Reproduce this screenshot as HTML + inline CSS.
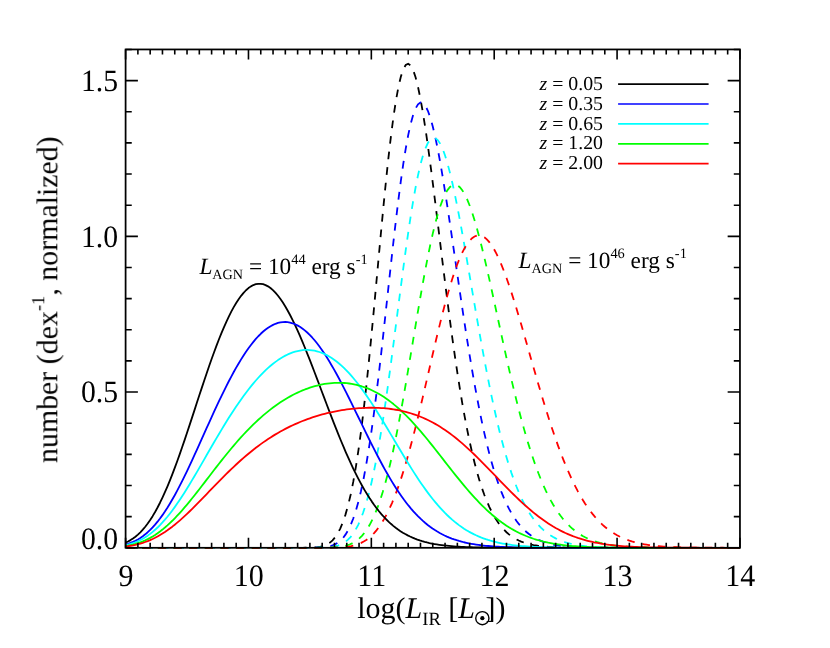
<!DOCTYPE html>
<html><head><meta charset="utf-8"><title>plot</title>
<style>
html,body{margin:0;padding:0;background:#fff;}
svg{display:block;}
text{font-family:"Liberation Serif",serif;fill:#000;text-rendering:geometricPrecision;}
</style></head>
<body>
<svg width="830" height="648" viewBox="0 0 830 648">
<rect width="830" height="648" fill="#fff"/>
<g id="curves">
<path d="M125.60,547.80 L128.01,547.80 L130.43,547.80 L132.84,547.80 L135.25,547.80 L137.67,547.80 L140.08,547.80 L142.49,547.80 L144.91,547.80 L147.32,547.80 L149.73,547.80 L152.15,547.80 L154.56,547.80 L156.97,547.80 L159.39,547.80 L161.80,547.80 L164.21,547.80 L166.63,547.80 L169.04,547.80 L171.45,547.80 L173.87,547.80 L176.28,547.80 L178.69,547.80 L181.11,547.80 L183.52,547.80 L185.94,547.80 L188.35,547.80 L190.76,547.80 L193.18,547.80 L195.59,547.80 L198.00,547.80 L200.42,547.80 L202.83,547.80 L205.24,547.80 L207.66,547.80 L210.07,547.80 L212.48,547.80 L214.90,547.80 L217.31,547.80 L219.72,547.80 L222.14,547.80 L224.55,547.80 L226.96,547.80 L229.38,547.80 L231.79,547.80 L234.20,547.80 L236.62,547.80 L239.03,547.80 L241.44,547.80 L243.86,547.80 L246.27,547.80 L248.73,547.80 L251.18,547.80 L253.64,547.80 L256.10,547.80 L258.56,547.80 L261.01,547.80 L263.47,547.80 L265.93,547.80 L268.39,547.80 L270.84,547.80 L273.30,547.80 L275.76,547.80 L278.22,547.80 L280.67,547.80 L283.13,547.80 L285.59,547.80 L288.05,547.80 L290.50,547.80 L292.96,547.80 L295.42,547.80 L297.88,547.79 L300.33,547.79 L302.79,547.78 L305.25,547.76 L307.71,547.73 L310.17,547.67 L312.63,547.57 L315.09,547.41 L317.56,547.17 L320.03,546.79 L322.50,546.22 L324.99,545.40 L327.49,544.22 L330.00,542.59 L332.53,540.36 L335.07,537.39 L337.64,533.52 L340.24,528.55 L342.85,522.32 L345.47,514.62 L348.11,505.30 L350.75,494.19 L353.38,481.18 L356.00,466.19 L358.60,449.18 L361.18,430.19 L363.73,409.31 L366.26,386.69 L368.77,362.55 L371.27,337.18 L373.75,310.90 L376.22,284.09 L378.69,257.16 L381.16,230.54 L383.62,204.68 L386.08,179.99 L388.54,156.89 L391.00,135.76 L393.45,116.92 L395.91,100.66 L398.37,87.20 L400.83,76.70 L403.29,69.27 L405.74,64.94 L408.20,63.68 L410.66,65.40 L413.12,69.99 L415.57,77.26 L418.03,87.00 L420.49,98.97 L422.95,112.91 L425.40,128.55 L427.86,145.59 L430.32,163.78 L432.77,182.83 L435.23,202.48 L437.69,222.48 L440.15,242.61 L442.60,262.67 L445.06,282.46 L447.52,301.83 L449.98,320.64 L452.43,338.77 L454.89,356.14 L457.35,372.68 L459.81,388.32 L462.26,403.05 L464.72,416.84 L467.18,429.68 L469.64,441.59 L472.09,452.59 L474.55,462.69 L477.01,471.94 L479.47,480.38 L481.92,488.04 L484.38,494.97 L486.84,501.22 L489.30,506.84 L491.75,511.87 L494.21,516.36 L496.67,520.35 L499.12,523.90 L501.58,527.04 L504.04,529.80 L506.50,532.24 L508.95,534.37 L511.41,536.24 L513.87,537.87 L516.33,539.29 L518.78,540.52 L521.24,541.58 L523.70,542.50 L526.16,543.30 L528.61,543.98 L531.07,544.57 L533.53,545.07 L535.99,545.49 L538.44,545.86 L540.90,546.17 L543.36,546.43 L545.82,546.66 L548.27,546.84 L550.73,547.00 L553.19,547.14 L555.64,547.25 L558.10,547.34 L560.56,547.42 L563.02,547.49 L565.47,547.54 L567.93,547.59 L570.39,547.62 L572.85,547.66 L575.30,547.68 L577.76,547.70 L580.22,547.72 L582.68,547.74 L585.13,547.75 L587.59,547.76 L590.05,547.77 L592.51,547.77 L594.96,547.78 L597.42,547.78 L599.88,547.79 L602.34,547.79 L604.79,547.79 L607.25,547.79 L609.71,547.79 L612.17,547.80 L614.62,547.80 L617.08,547.80 L619.54,547.80 L621.99,547.80 L624.45,547.80 L626.91,547.80 L629.37,547.80 L631.82,547.80 L634.28,547.80 L636.74,547.80 L639.20,547.80 L641.65,547.80 L644.11,547.80 L646.57,547.80 L649.03,547.80 L651.48,547.80 L653.94,547.80 L656.40,547.80 L658.86,547.80 L661.31,547.80 L663.77,547.80 L666.23,547.80 L668.69,547.80 L671.14,547.80 L673.60,547.80 L676.06,547.80 L678.52,547.80 L680.97,547.80 L683.43,547.80 L685.89,547.80 L688.34,547.80 L690.80,547.80 L693.26,547.80 L695.72,547.80 L698.17,547.80 L700.63,547.80 L703.09,547.80 L705.55,547.80 L708.00,547.80 L710.46,547.80 L712.92,547.80 L715.38,547.80 L717.83,547.80 L720.29,547.80 L722.75,547.80 L725.21,547.80 L727.66,547.80 L730.12,547.80 L732.58,547.80 L735.04,547.80 L737.49,547.80 L739.95,547.80" stroke="#000000" stroke-width="1.8" fill="none" stroke-dasharray="7.73 7.93" stroke-dashoffset="-1.0" stroke-linejoin="miter"/>
<path d="M125.60,547.80 L128.03,547.80 L130.46,547.80 L132.89,547.80 L135.32,547.80 L137.75,547.80 L140.18,547.80 L142.61,547.80 L145.04,547.80 L147.46,547.80 L149.89,547.80 L152.32,547.80 L154.75,547.80 L157.18,547.80 L159.61,547.80 L162.04,547.80 L164.47,547.80 L166.90,547.80 L169.33,547.80 L171.76,547.80 L174.19,547.80 L176.62,547.80 L179.05,547.80 L181.48,547.80 L183.91,547.80 L186.34,547.80 L188.76,547.80 L191.19,547.80 L193.62,547.80 L196.05,547.80 L198.48,547.80 L200.91,547.80 L203.34,547.80 L205.77,547.80 L208.20,547.80 L210.63,547.80 L213.06,547.80 L215.49,547.80 L217.92,547.80 L220.35,547.80 L222.78,547.80 L225.21,547.80 L227.63,547.80 L230.06,547.80 L232.49,547.80 L234.92,547.80 L237.35,547.80 L239.78,547.80 L242.21,547.80 L244.64,547.80 L247.07,547.80 L249.53,547.80 L251.98,547.80 L254.44,547.80 L256.90,547.80 L259.36,547.80 L261.81,547.80 L264.27,547.80 L266.73,547.80 L269.19,547.80 L271.64,547.80 L274.10,547.80 L276.56,547.80 L279.02,547.80 L281.47,547.80 L283.93,547.80 L286.39,547.80 L288.85,547.80 L291.30,547.80 L293.76,547.80 L296.22,547.80 L298.68,547.80 L301.13,547.80 L303.59,547.79 L306.05,547.79 L308.51,547.78 L310.96,547.76 L313.42,547.74 L315.88,547.69 L318.34,547.61 L320.80,547.49 L323.26,547.31 L325.72,547.03 L328.19,546.61 L330.66,546.02 L333.14,545.19 L335.62,544.05 L338.11,542.51 L340.61,540.46 L343.12,537.81 L345.64,534.41 L348.17,530.14 L350.71,524.87 L353.26,518.47 L355.82,510.80 L358.38,501.75 L360.95,491.24 L363.50,479.20 L366.05,465.59 L368.59,450.42 L371.12,433.72 L373.63,415.59 L376.13,396.14 L378.62,375.56 L381.11,354.04 L383.58,331.82 L386.05,309.18 L388.52,286.41 L390.98,263.81 L393.45,241.69 L395.91,220.35 L398.37,200.11 L400.82,181.22 L403.28,163.96 L405.74,148.54 L408.20,135.15 L410.66,123.93 L413.11,115.02 L415.57,108.46 L418.03,104.29 L420.49,102.50 L422.95,103.04 L425.40,105.83 L427.86,110.75 L430.32,117.68 L432.77,126.45 L435.23,136.89 L437.69,148.82 L440.15,162.03 L442.60,176.34 L445.06,191.54 L447.52,207.45 L449.98,223.87 L452.43,240.63 L454.89,257.57 L457.35,274.52 L459.81,291.37 L462.26,307.97 L464.72,324.22 L467.18,340.03 L469.64,355.31 L472.09,370.01 L474.55,384.07 L477.01,397.46 L479.47,410.13 L481.92,422.09 L484.38,433.32 L486.84,443.83 L489.30,453.61 L491.75,462.69 L494.21,471.09 L496.67,478.83 L499.12,485.94 L501.58,492.45 L504.04,498.39 L506.50,503.79 L508.95,508.69 L511.41,513.13 L513.87,517.12 L516.33,520.72 L518.78,523.95 L521.24,526.83 L523.70,529.41 L526.16,531.70 L528.61,533.73 L531.07,535.53 L533.53,537.13 L535.99,538.53 L538.44,539.77 L540.90,540.85 L543.36,541.80 L545.82,542.63 L548.27,543.35 L550.73,543.98 L553.19,544.53 L555.64,545.00 L558.10,545.41 L560.56,545.76 L563.02,546.06 L565.47,546.33 L567.93,546.55 L570.39,546.74 L572.85,546.91 L575.30,547.05 L577.76,547.16 L580.22,547.27 L582.68,547.35 L585.13,547.42 L587.59,547.49 L590.05,547.54 L592.51,547.58 L594.96,547.62 L597.42,547.65 L599.88,547.67 L602.34,547.70 L604.79,547.71 L607.25,547.73 L609.71,547.74 L612.17,547.75 L614.62,547.76 L617.08,547.77 L619.54,547.77 L621.99,547.78 L624.45,547.78 L626.91,547.79 L629.37,547.79 L631.82,547.79 L634.28,547.79 L636.74,547.79 L639.20,547.79 L641.65,547.80 L644.11,547.80 L646.57,547.80 L649.03,547.80 L651.48,547.80 L653.94,547.80 L656.40,547.80 L658.86,547.80 L661.31,547.80 L663.77,547.80 L666.23,547.80 L668.69,547.80 L671.14,547.80 L673.60,547.80 L676.06,547.80 L678.52,547.80 L680.97,547.80 L683.43,547.80 L685.89,547.80 L688.34,547.80 L690.80,547.80 L693.26,547.80 L695.72,547.80 L698.17,547.80 L700.63,547.80 L703.09,547.80 L705.55,547.80 L708.00,547.80 L710.46,547.80 L712.92,547.80 L715.38,547.80 L717.83,547.80 L720.29,547.80 L722.75,547.80 L725.21,547.80 L727.66,547.80 L730.12,547.80 L732.58,547.80 L735.04,547.80 L737.49,547.80 L739.95,547.80" stroke="#0000ff" stroke-width="1.8" fill="none" stroke-dasharray="7.72 7.925" stroke-dashoffset="-1.5" stroke-linejoin="miter"/>
<path d="M125.60,547.80 L128.03,547.80 L130.46,547.80 L132.89,547.80 L135.32,547.80 L137.75,547.80 L140.18,547.80 L142.61,547.80 L145.04,547.80 L147.46,547.80 L149.89,547.80 L152.32,547.80 L154.75,547.80 L157.18,547.80 L159.61,547.80 L162.04,547.80 L164.47,547.80 L166.90,547.80 L169.33,547.80 L171.76,547.80 L174.19,547.80 L176.62,547.80 L179.05,547.80 L181.48,547.80 L183.91,547.80 L186.34,547.80 L188.76,547.80 L191.19,547.80 L193.62,547.80 L196.05,547.80 L198.48,547.80 L200.91,547.80 L203.34,547.80 L205.77,547.80 L208.20,547.80 L210.63,547.80 L213.06,547.80 L215.49,547.80 L217.92,547.80 L220.35,547.80 L222.78,547.80 L225.21,547.80 L227.63,547.80 L230.06,547.80 L232.49,547.80 L234.92,547.80 L237.35,547.80 L239.78,547.80 L242.21,547.80 L244.64,547.80 L247.07,547.80 L249.53,547.80 L251.98,547.80 L254.44,547.80 L256.90,547.80 L259.36,547.80 L261.81,547.80 L264.27,547.80 L266.73,547.80 L269.19,547.80 L271.64,547.80 L274.10,547.80 L276.56,547.80 L279.02,547.80 L281.47,547.80 L283.93,547.80 L286.39,547.80 L288.85,547.80 L291.30,547.80 L293.76,547.80 L296.22,547.80 L298.68,547.80 L301.13,547.80 L303.59,547.80 L306.05,547.80 L308.51,547.79 L310.96,547.79 L313.42,547.78 L315.88,547.76 L318.34,547.73 L320.79,547.68 L323.25,547.61 L325.71,547.49 L328.17,547.32 L330.64,547.07 L333.10,546.72 L335.57,546.22 L338.04,545.53 L340.52,544.60 L343.00,543.37 L345.50,541.76 L347.99,539.69 L350.50,537.08 L353.02,533.84 L355.55,529.86 L358.08,525.05 L360.62,519.31 L363.17,512.56 L365.72,504.73 L368.28,495.74 L370.82,485.55 L373.37,474.14 L375.90,461.51 L378.43,447.68 L380.95,432.71 L383.46,416.69 L385.95,399.72 L388.44,381.94 L390.93,363.50 L393.40,344.59 L395.87,325.40 L398.34,306.14 L400.81,287.03 L403.27,268.30 L405.73,250.15 L408.19,232.80 L410.65,216.45 L413.11,201.29 L415.57,187.49 L418.03,175.18 L420.49,164.50 L422.94,155.54 L425.40,148.37 L427.86,143.03 L430.32,139.54 L432.77,137.90 L435.23,138.07 L437.69,140.00 L440.15,143.61 L442.60,148.82 L445.06,155.51 L447.52,163.58 L449.98,172.88 L452.43,183.30 L454.89,194.69 L457.35,206.91 L459.81,219.81 L462.26,233.28 L464.72,247.16 L467.18,261.33 L469.64,275.68 L472.09,290.08 L474.55,304.45 L477.01,318.67 L479.47,332.67 L481.92,346.38 L484.38,359.73 L486.84,372.65 L489.30,385.12 L491.75,397.08 L494.21,408.52 L496.67,419.41 L499.12,429.73 L501.58,439.49 L504.04,448.67 L506.50,457.28 L508.95,465.33 L511.41,472.84 L513.87,479.81 L516.33,486.27 L518.78,492.24 L521.24,497.73 L523.70,502.78 L526.16,507.40 L528.61,511.62 L531.07,515.46 L533.53,518.96 L535.99,522.12 L538.44,524.99 L540.90,527.57 L543.36,529.90 L545.82,531.99 L548.27,533.86 L550.73,535.53 L553.19,537.02 L555.64,538.35 L558.10,539.53 L560.56,540.57 L563.02,541.50 L565.47,542.31 L567.93,543.03 L570.39,543.66 L572.85,544.22 L575.30,544.70 L577.76,545.13 L580.22,545.50 L582.68,545.82 L585.13,546.10 L587.59,546.34 L590.05,546.55 L592.51,546.73 L594.96,546.89 L597.42,547.03 L599.88,547.14 L602.34,547.24 L604.79,547.33 L607.25,547.40 L609.71,547.46 L612.17,547.52 L614.62,547.56 L617.08,547.60 L619.54,547.63 L621.99,547.66 L624.45,547.68 L626.91,547.70 L629.37,547.72 L631.82,547.73 L634.28,547.74 L636.74,547.75 L639.20,547.76 L641.65,547.77 L644.11,547.77 L646.57,547.78 L649.03,547.78 L651.48,547.78 L653.94,547.79 L656.40,547.79 L658.86,547.79 L661.31,547.79 L663.77,547.79 L666.23,547.80 L668.69,547.80 L671.14,547.80 L673.60,547.80 L676.06,547.80 L678.52,547.80 L680.97,547.80 L683.43,547.80 L685.89,547.80 L688.34,547.80 L690.80,547.80 L693.26,547.80 L695.72,547.80 L698.17,547.80 L700.63,547.80 L703.09,547.80 L705.55,547.80 L708.00,547.80 L710.46,547.80 L712.92,547.80 L715.38,547.80 L717.83,547.80 L720.29,547.80 L722.75,547.80 L725.21,547.80 L727.66,547.80 L730.12,547.80 L732.58,547.80 L735.04,547.80 L737.49,547.80 L739.95,547.80" stroke="#00ffff" stroke-width="1.8" fill="none" stroke-dasharray="7.67 7.87" stroke-dashoffset="-4.1" stroke-linejoin="miter"/>
<path d="M125.60,547.80 L128.01,547.80 L130.43,547.80 L132.84,547.80 L135.25,547.80 L137.67,547.80 L140.08,547.80 L142.49,547.80 L144.91,547.80 L147.32,547.80 L149.73,547.80 L152.15,547.80 L154.56,547.80 L156.97,547.80 L159.39,547.80 L161.80,547.80 L164.21,547.80 L166.63,547.80 L169.04,547.80 L171.45,547.80 L173.87,547.80 L176.28,547.80 L178.69,547.80 L181.11,547.80 L183.52,547.80 L185.94,547.80 L188.35,547.80 L190.76,547.80 L193.18,547.80 L195.59,547.80 L198.00,547.80 L200.42,547.80 L202.83,547.80 L205.24,547.80 L207.66,547.80 L210.07,547.80 L212.48,547.80 L214.90,547.80 L217.31,547.80 L219.72,547.80 L222.14,547.80 L224.55,547.80 L226.96,547.80 L229.38,547.80 L231.79,547.80 L234.20,547.80 L236.62,547.80 L239.03,547.80 L241.44,547.80 L243.86,547.80 L246.27,547.80 L248.73,547.80 L251.18,547.80 L253.64,547.80 L256.10,547.80 L258.56,547.80 L261.01,547.80 L263.47,547.80 L265.93,547.80 L268.39,547.80 L270.84,547.80 L273.30,547.80 L275.76,547.80 L278.22,547.80 L280.67,547.80 L283.13,547.80 L285.59,547.80 L288.05,547.80 L290.50,547.80 L292.96,547.80 L295.42,547.80 L297.88,547.80 L300.33,547.80 L302.79,547.80 L305.25,547.80 L307.71,547.80 L310.16,547.80 L312.62,547.79 L315.08,547.79 L317.54,547.78 L319.99,547.77 L322.45,547.75 L324.91,547.73 L327.37,547.68 L329.83,547.61 L332.29,547.52 L334.75,547.38 L337.22,547.18 L339.68,546.90 L342.15,546.53 L344.63,546.03 L347.11,545.37 L349.59,544.50 L352.09,543.40 L354.59,542.01 L357.10,540.28 L359.63,538.16 L362.16,535.58 L364.70,532.49 L367.26,528.83 L369.83,524.54 L372.40,519.57 L374.98,513.87 L377.56,507.40 L380.15,500.13 L382.73,492.04 L385.31,483.11 L387.88,473.36 L390.44,462.79 L392.99,451.44 L395.53,439.35 L398.06,426.59 L400.58,413.22 L403.08,399.33 L405.58,385.02 L408.07,370.39 L410.56,355.56 L413.04,340.66 L415.51,325.80 L417.98,311.12 L420.45,296.74 L422.91,282.79 L425.38,269.40 L427.84,256.68 L430.30,244.73 L432.76,233.67 L435.22,223.59 L437.68,214.55 L440.14,206.63 L442.60,199.89 L445.05,194.35 L447.51,190.06 L449.97,187.02 L452.43,185.23 L454.89,184.69 L457.35,185.36 L459.81,187.22 L462.26,190.22 L464.72,194.31 L467.18,199.43 L469.64,205.50 L472.09,212.46 L474.55,220.23 L477.01,228.72 L479.47,237.86 L481.92,247.56 L484.38,257.73 L486.84,268.29 L489.30,279.17 L491.75,290.28 L494.21,301.55 L496.67,312.91 L499.12,324.29 L501.58,335.62 L504.04,346.85 L506.50,357.93 L508.95,368.81 L511.41,379.45 L513.87,389.80 L516.33,399.85 L518.78,409.55 L521.24,418.90 L523.70,427.87 L526.16,436.45 L528.61,444.63 L531.07,452.40 L533.53,459.77 L535.99,466.73 L538.44,473.29 L540.90,479.45 L543.36,485.22 L545.82,490.62 L548.27,495.65 L550.73,500.33 L553.19,504.67 L555.64,508.69 L558.10,512.39 L560.56,515.81 L563.02,518.95 L565.47,521.83 L567.93,524.46 L570.39,526.86 L572.85,529.05 L575.30,531.04 L577.76,532.84 L580.22,534.48 L582.68,535.95 L585.13,537.28 L587.59,538.48 L590.05,539.55 L592.51,540.52 L594.96,541.38 L597.42,542.15 L599.88,542.83 L602.34,543.44 L604.79,543.98 L607.25,544.46 L609.71,544.89 L612.17,545.26 L614.62,545.59 L617.08,545.88 L619.54,546.13 L621.99,546.36 L624.45,546.55 L626.91,546.72 L629.37,546.87 L631.82,547.00 L634.28,547.11 L636.74,547.21 L639.20,547.30 L641.65,547.37 L644.11,547.43 L646.57,547.49 L649.03,547.53 L651.48,547.57 L653.94,547.61 L656.40,547.64 L658.86,547.66 L661.31,547.68 L663.77,547.70 L666.23,547.72 L668.69,547.73 L671.14,547.74 L673.60,547.75 L676.06,547.76 L678.52,547.77 L680.97,547.77 L683.43,547.78 L685.89,547.78 L688.34,547.78 L690.80,547.79 L693.26,547.79 L695.72,547.79 L698.17,547.79 L700.63,547.79 L703.09,547.79 L705.55,547.80 L708.00,547.80 L710.46,547.80 L712.92,547.80 L715.38,547.80 L717.83,547.80 L720.29,547.80 L722.75,547.80 L725.21,547.80 L727.66,547.80 L730.12,547.80 L732.58,547.80 L735.04,547.80 L737.49,547.80 L739.95,547.80" stroke="#00ff00" stroke-width="1.8" fill="none" stroke-dasharray="7.72 7.93" stroke-dashoffset="-0.75" stroke-linejoin="miter"/>
<path d="M125.60,547.80 L128.00,547.80 L130.39,547.80 L132.79,547.80 L135.19,547.80 L137.59,547.80 L139.98,547.80 L142.38,547.80 L144.78,547.80 L147.18,547.80 L149.57,547.80 L151.97,547.80 L154.37,547.80 L156.77,547.80 L159.16,547.80 L161.56,547.80 L163.96,547.80 L166.36,547.80 L168.75,547.80 L171.15,547.80 L173.55,547.80 L175.95,547.80 L178.34,547.80 L180.74,547.80 L183.14,547.80 L185.53,547.80 L187.93,547.80 L190.33,547.80 L192.73,547.80 L195.12,547.80 L197.52,547.80 L199.92,547.80 L202.32,547.80 L204.71,547.80 L207.11,547.80 L209.51,547.80 L211.91,547.80 L214.30,547.80 L216.70,547.80 L219.10,547.80 L221.50,547.80 L223.89,547.80 L226.29,547.80 L228.69,547.80 L231.09,547.80 L233.48,547.80 L235.88,547.80 L238.28,547.80 L240.68,547.80 L243.07,547.80 L245.47,547.80 L247.93,547.80 L250.38,547.80 L252.84,547.80 L255.30,547.80 L257.76,547.80 L260.21,547.80 L262.67,547.80 L265.13,547.80 L267.59,547.80 L270.04,547.80 L272.50,547.80 L274.96,547.80 L277.42,547.80 L279.87,547.80 L282.33,547.80 L284.79,547.80 L287.25,547.80 L289.70,547.80 L292.16,547.80 L294.62,547.80 L297.08,547.80 L299.53,547.80 L301.99,547.80 L304.45,547.80 L306.91,547.80 L309.36,547.80 L311.82,547.80 L314.28,547.80 L316.73,547.79 L319.19,547.79 L321.65,547.78 L324.11,547.77 L326.57,547.76 L329.02,547.73 L331.48,547.70 L333.94,547.65 L336.40,547.57 L338.87,547.47 L341.33,547.32 L343.80,547.13 L346.27,546.87 L348.74,546.53 L351.22,546.09 L353.70,545.53 L356.19,544.82 L358.69,543.94 L361.20,542.86 L363.71,541.55 L366.24,539.97 L368.77,538.10 L371.32,535.90 L373.88,533.34 L376.44,530.39 L379.02,527.02 L381.61,523.19 L384.20,518.90 L386.79,514.12 L389.39,508.83 L391.99,503.02 L394.59,496.70 L397.19,489.85 L399.78,482.50 L402.36,474.65 L404.93,466.32 L407.50,457.55 L410.05,448.35 L412.59,438.78 L415.13,428.87 L417.65,418.67 L420.17,408.23 L422.68,397.61 L425.18,386.87 L427.67,376.07 L430.16,365.26 L432.64,354.53 L435.12,343.92 L437.59,333.50 L440.07,323.34 L442.53,313.50 L445.00,304.04 L447.47,295.01 L449.93,286.47 L452.39,278.46 L454.86,271.04 L457.32,264.24 L459.78,258.10 L462.24,252.65 L464.70,247.92 L467.16,243.93 L469.61,240.70 L472.07,238.23 L474.53,236.53 L476.99,235.60 L479.47,235.43 L481.92,236.02 L484.38,237.34 L486.84,239.39 L489.30,242.12 L491.75,245.53 L494.21,249.57 L496.67,254.20 L499.12,259.41 L501.58,265.13 L504.04,271.34 L506.50,277.99 L508.95,285.03 L511.41,292.43 L513.87,300.13 L516.33,308.09 L518.78,316.26 L521.24,324.61 L523.70,333.09 L526.16,341.66 L528.61,350.27 L531.07,358.90 L533.53,367.49 L535.99,376.03 L538.44,384.48 L540.90,392.81 L543.36,400.99 L545.82,409.01 L548.27,416.83 L550.73,424.43 L553.19,431.82 L555.64,438.95 L558.10,445.84 L560.56,452.47 L563.02,458.82 L565.47,464.90 L567.93,470.70 L570.39,476.23 L572.85,481.47 L575.30,486.44 L577.76,491.14 L580.22,495.57 L582.68,499.73 L585.13,503.64 L587.59,507.31 L590.05,510.73 L592.51,513.92 L594.96,516.89 L597.42,519.64 L599.88,522.20 L602.34,524.56 L604.79,526.74 L607.25,528.74 L609.71,530.59 L612.17,532.28 L614.62,533.83 L617.08,535.24 L619.54,536.53 L621.99,537.70 L624.45,538.77 L626.91,539.74 L629.37,540.61 L631.82,541.40 L634.28,542.11 L636.74,542.76 L639.20,543.33 L641.65,543.85 L644.11,544.31 L646.57,544.72 L649.03,545.09 L651.48,545.42 L653.94,545.71 L656.40,545.97 L658.86,546.20 L661.31,546.40 L663.77,546.58 L666.23,546.74 L668.69,546.88 L671.14,547.00 L673.60,547.11 L676.06,547.20 L678.52,547.28 L680.97,547.35 L683.43,547.42 L685.89,547.47 L688.34,547.52 L690.80,547.56 L693.26,547.59 L695.72,547.62 L698.17,547.65 L700.63,547.67 L703.09,547.69 L705.55,547.71 L708.00,547.72 L710.46,547.73 L712.92,547.74 L715.38,547.75 L717.83,547.76 L720.29,547.77 L722.75,547.77 L725.21,547.78 L727.66,547.78 L730.12,547.78 L732.58,547.79 L735.04,547.79 L737.49,547.79 L739.95,547.79" stroke="#ff0000" stroke-width="1.8" fill="none" stroke-dasharray="7.7 7.9" stroke-dashoffset="-1.7" stroke-linejoin="miter"/>
<path d="M125.60,542.66 L128.06,541.49 L130.51,540.11 L132.97,538.52 L135.43,536.70 L137.89,534.62 L140.34,532.28 L142.80,529.66 L145.26,526.74 L147.72,523.53 L150.17,520.00 L152.63,516.16 L155.09,511.99 L157.55,507.52 L160.00,502.72 L162.46,497.62 L164.92,492.22 L167.38,486.53 L169.83,480.57 L172.29,474.35 L174.75,467.89 L177.21,461.21 L179.66,454.33 L182.12,447.28 L184.58,440.09 L187.03,432.77 L189.49,425.35 L191.95,417.87 L194.41,410.36 L196.86,402.83 L199.32,395.32 L201.78,387.86 L204.24,380.47 L206.69,373.19 L209.15,366.04 L211.61,359.05 L214.07,352.24 L216.52,345.64 L218.98,339.27 L221.44,333.16 L223.90,327.32 L226.35,321.78 L228.81,316.56 L231.27,311.68 L233.73,307.15 L236.18,302.98 L238.64,299.20 L241.10,295.81 L243.56,292.82 L246.01,290.25 L248.47,288.10 L250.93,286.37 L253.38,285.07 L255.84,284.21 L258.30,283.78 L260.64,283.79 L263.10,284.22 L265.55,285.08 L268.01,286.36 L270.46,288.05 L272.92,290.15 L275.37,292.63 L277.82,295.50 L280.27,298.73 L282.72,302.31 L285.17,306.23 L287.62,310.46 L290.07,314.99 L292.52,319.80 L294.96,324.87 L297.40,330.17 L299.85,335.69 L302.29,341.40 L304.72,347.27 L307.16,353.30 L309.59,359.44 L312.02,365.69 L314.45,372.01 L316.88,378.39 L319.30,384.80 L321.72,391.22 L324.14,397.64 L326.55,404.02 L328.97,410.36 L331.37,416.63 L333.78,422.82 L336.18,428.92 L338.57,434.89 L340.97,440.75 L343.36,446.47 L345.74,452.03 L348.13,457.44 L350.51,462.69 L352.89,467.76 L355.26,472.65 L357.64,477.35 L360.01,481.87 L362.38,486.20 L364.75,490.34 L367.12,494.29 L369.49,498.05 L371.86,501.62 L374.23,505.01 L376.61,508.20 L378.98,511.22 L381.36,514.07 L383.74,516.74 L386.12,519.25 L388.50,521.60 L390.89,523.79 L393.27,525.84 L395.67,527.74 L398.06,529.51 L400.46,531.14 L402.86,532.66 L405.27,534.06 L407.68,535.35 L410.09,536.54 L412.50,537.63 L414.92,538.63 L417.34,539.54 L419.76,540.38 L422.19,541.14 L424.62,541.83 L427.05,542.46 L429.48,543.03 L431.92,543.54 L434.36,544.01 L436.80,544.43 L439.24,544.81 L441.68,545.15 L444.12,545.45 L446.57,545.73 L449.02,545.97 L451.46,546.19 L453.91,546.38 L456.36,546.56 L458.81,546.71 L461.26,546.85 L463.72,546.97 L466.17,547.07 L468.62,547.17 L471.08,547.25 L473.53,547.32 L475.98,547.38 L478.44,547.44 L480.89,547.49 L483.35,547.53 L485.81,547.57 L488.26,547.60 L490.72,547.63 L493.17,547.65 L495.63,547.67 L498.09,547.69 L500.54,547.71 L503.00,547.72 L505.46,547.73 L507.91,547.74 L510.37,547.75 L512.83,547.76 L515.29,547.77 L517.74,547.77 L520.20,547.78 L522.66,547.78 L525.11,547.78 L527.57,547.79 L530.03,547.79 L532.49,547.79 L534.94,547.79 L537.40,547.79 L539.86,547.79 L542.32,547.79 L544.77,547.80 L547.23,547.80 L549.69,547.80 L552.15,547.80 L554.60,547.80 L557.06,547.80 L559.52,547.80 L561.97,547.80 L564.43,547.80 L566.89,547.80 L569.35,547.80 L571.80,547.80 L574.26,547.80 L576.72,547.80 L579.18,547.80 L581.63,547.80 L584.09,547.80 L586.55,547.80 L589.01,547.80 L591.46,547.80 L593.92,547.80 L596.38,547.80 L598.84,547.80 L601.29,547.80 L603.75,547.80 L606.21,547.80 L608.67,547.80 L611.12,547.80 L613.58,547.80 L616.11,547.80 L618.63,547.80 L621.16,547.80 L623.69,547.80 L626.22,547.80 L628.74,547.80 L631.27,547.80 L633.80,547.80 L636.33,547.80 L638.85,547.80 L641.38,547.80 L643.91,547.80 L646.44,547.80 L648.96,547.80 L651.49,547.80 L654.02,547.80 L656.55,547.80 L659.07,547.80 L661.60,547.80 L664.13,547.80 L666.66,547.80 L669.18,547.80 L671.71,547.80 L674.24,547.80 L676.77,547.80 L679.29,547.80 L681.82,547.80 L684.35,547.80 L686.87,547.80 L689.40,547.80 L691.93,547.80 L694.46,547.80 L696.98,547.80 L699.51,547.80 L702.04,547.80 L704.57,547.80 L707.09,547.80 L709.62,547.80 L712.15,547.80 L714.68,547.80 L717.20,547.80 L719.73,547.80 L722.26,547.80 L724.79,547.80 L727.31,547.80 L729.84,547.80 L732.37,547.80 L734.90,547.80 L737.42,547.80 L739.95,547.80" stroke="#000000" stroke-width="1.8" fill="none" stroke-linejoin="round"/>
<path d="M125.60,544.57 L128.06,543.82 L130.51,542.94 L132.97,541.93 L135.43,540.75 L137.89,539.42 L140.34,537.90 L142.80,536.20 L145.26,534.31 L147.72,532.21 L150.17,529.91 L152.63,527.39 L155.09,524.65 L157.55,521.70 L160.00,518.53 L162.46,515.15 L164.92,511.55 L167.38,507.75 L169.83,503.75 L172.29,499.56 L174.75,495.19 L177.21,490.65 L179.66,485.95 L182.12,481.11 L184.58,476.13 L187.03,471.04 L189.49,465.85 L191.95,460.58 L194.41,455.23 L196.86,449.82 L199.32,444.38 L201.78,438.91 L204.24,433.44 L206.69,427.97 L209.15,422.52 L211.61,417.10 L214.07,411.74 L216.52,406.43 L218.98,401.20 L221.44,396.06 L223.90,391.02 L226.35,386.08 L228.81,381.27 L231.27,376.59 L233.73,372.05 L236.18,367.67 L238.64,363.44 L241.10,359.38 L243.56,355.49 L246.01,351.79 L248.47,348.27 L250.93,344.96 L253.38,341.84 L255.84,338.94 L258.30,336.24 L260.76,333.77 L263.21,331.52 L265.67,329.50 L268.13,327.72 L270.59,326.17 L273.04,324.86 L275.50,323.79 L277.96,322.97 L280.42,322.39 L282.87,322.07 L285.33,321.99 L287.60,322.17 L290.05,322.59 L292.51,323.27 L294.96,324.20 L297.42,325.37 L299.87,326.79 L302.32,328.46 L304.78,330.36 L307.23,332.50 L309.68,334.88 L312.13,337.47 L314.58,340.28 L317.02,343.31 L319.47,346.54 L321.92,349.96 L324.36,353.57 L326.80,357.36 L329.25,361.31 L331.69,365.42 L334.12,369.67 L336.56,374.05 L339.00,378.55 L341.43,383.16 L343.86,387.86 L346.29,392.64 L348.72,397.49 L351.14,402.38 L353.56,407.32 L355.98,412.28 L358.40,417.26 L360.81,422.23 L363.22,427.19 L365.63,432.12 L368.04,437.02 L370.44,441.86 L372.84,446.65 L375.24,451.36 L377.64,455.99 L380.03,460.53 L382.42,464.97 L384.81,469.31 L387.19,473.53 L389.58,477.64 L391.96,481.62 L394.34,485.47 L396.72,489.18 L399.10,492.76 L401.48,496.20 L403.86,499.51 L406.24,502.67 L408.62,505.69 L411.00,508.57 L413.38,511.31 L415.77,513.91 L418.15,516.37 L420.54,518.71 L422.92,520.91 L425.32,522.98 L427.71,524.93 L430.10,526.76 L432.50,528.48 L434.90,530.08 L437.31,531.57 L439.71,532.96 L442.12,534.26 L444.53,535.46 L446.95,536.57 L449.36,537.60 L451.78,538.55 L454.21,539.42 L456.63,540.22 L459.06,540.96 L461.49,541.63 L463.92,542.25 L466.35,542.81 L468.79,543.33 L471.23,543.79 L473.67,544.21 L476.11,544.60 L478.55,544.95 L480.99,545.26 L483.44,545.54 L485.88,545.80 L488.33,546.02 L490.78,546.23 L493.23,546.41 L495.68,546.58 L498.13,546.72 L500.58,546.85 L503.03,546.97 L505.49,547.07 L507.94,547.16 L510.39,547.24 L512.85,547.31 L515.30,547.38 L517.76,547.43 L520.21,547.48 L522.67,547.52 L525.12,547.56 L527.58,547.59 L530.04,547.62 L532.49,547.64 L534.95,547.67 L537.41,547.69 L539.86,547.70 L542.32,547.72 L544.78,547.73 L547.23,547.74 L549.69,547.75 L552.15,547.76 L554.60,547.76 L557.06,547.77 L559.52,547.77 L561.98,547.78 L564.43,547.78 L566.89,547.78 L569.35,547.79 L571.80,547.79 L574.26,547.79 L576.72,547.79 L579.18,547.79 L581.63,547.79 L584.09,547.80 L586.55,547.80 L589.01,547.80 L591.46,547.80 L593.92,547.80 L596.38,547.80 L598.84,547.80 L601.29,547.80 L603.75,547.80 L606.21,547.80 L608.67,547.80 L611.12,547.80 L613.58,547.80 L616.11,547.80 L618.63,547.80 L621.16,547.80 L623.69,547.80 L626.22,547.80 L628.74,547.80 L631.27,547.80 L633.80,547.80 L636.33,547.80 L638.85,547.80 L641.38,547.80 L643.91,547.80 L646.44,547.80 L648.96,547.80 L651.49,547.80 L654.02,547.80 L656.55,547.80 L659.07,547.80 L661.60,547.80 L664.13,547.80 L666.66,547.80 L669.18,547.80 L671.71,547.80 L674.24,547.80 L676.77,547.80 L679.29,547.80 L681.82,547.80 L684.35,547.80 L686.87,547.80 L689.40,547.80 L691.93,547.80 L694.46,547.80 L696.98,547.80 L699.51,547.80 L702.04,547.80 L704.57,547.80 L707.09,547.80 L709.62,547.80 L712.15,547.80 L714.68,547.80 L717.20,547.80 L719.73,547.80 L722.26,547.80 L724.79,547.80 L727.31,547.80 L729.84,547.80 L732.37,547.80 L734.90,547.80 L737.42,547.80 L739.95,547.80" stroke="#0000ff" stroke-width="1.8" fill="none" stroke-linejoin="round"/>
<path d="M125.60,545.25 L128.06,544.66 L130.51,543.98 L132.97,543.18 L135.43,542.27 L137.89,541.23 L140.34,540.05 L142.80,538.74 L145.26,537.27 L147.72,535.64 L150.17,533.86 L152.63,531.91 L155.09,529.80 L157.55,527.52 L160.00,525.08 L162.46,522.47 L164.92,519.70 L167.38,516.77 L169.83,513.69 L172.29,510.46 L174.75,507.10 L177.21,503.60 L179.66,499.98 L182.12,496.25 L184.58,492.42 L187.03,488.49 L189.49,484.49 L191.95,480.41 L194.41,476.27 L196.86,472.09 L199.32,467.86 L201.78,463.61 L204.24,459.35 L206.69,455.07 L209.15,450.81 L211.61,446.55 L214.07,442.32 L216.52,438.11 L218.98,433.95 L221.44,429.84 L223.90,425.78 L226.35,421.78 L228.81,417.84 L231.27,413.99 L233.73,410.21 L236.18,406.52 L238.64,402.91 L241.10,399.40 L243.56,395.99 L246.01,392.68 L248.47,389.47 L250.93,386.37 L253.38,383.39 L255.84,380.51 L258.30,377.76 L260.76,375.12 L263.21,372.60 L265.67,370.20 L268.13,367.93 L270.59,365.78 L273.04,363.77 L275.50,361.88 L277.96,360.12 L280.42,358.50 L282.87,357.01 L285.33,355.66 L287.79,354.45 L290.25,353.38 L292.70,352.44 L295.16,351.66 L297.62,351.01 L300.08,350.52 L302.53,350.17 L304.99,349.97 L307.45,349.93 L309.59,350.03 L312.05,350.29 L314.50,350.71 L316.96,351.28 L319.41,352.01 L321.86,352.90 L324.32,353.94 L326.77,355.15 L329.22,356.51 L331.67,358.03 L334.12,359.70 L336.57,361.53 L339.02,363.52 L341.47,365.66 L343.91,367.95 L346.36,370.38 L348.80,372.96 L351.24,375.67 L353.68,378.53 L356.12,381.51 L358.56,384.61 L361.00,387.84 L363.43,391.18 L365.87,394.62 L368.30,398.16 L370.73,401.80 L373.15,405.51 L375.58,409.30 L378.00,413.16 L380.42,417.07 L382.84,421.03 L385.26,425.03 L387.67,429.06 L390.08,433.11 L392.49,437.16 L394.90,441.22 L397.30,445.27 L399.70,449.30 L402.10,453.31 L404.49,457.27 L406.89,461.20 L409.28,465.07 L411.66,468.88 L414.05,472.63 L416.43,476.30 L418.82,479.90 L421.20,483.40 L423.57,486.82 L425.95,490.14 L428.33,493.36 L430.71,496.48 L433.08,499.50 L435.46,502.40 L437.83,505.20 L440.21,507.88 L442.59,510.45 L444.96,512.91 L447.34,515.26 L449.72,517.50 L452.11,519.63 L454.49,521.64 L456.88,523.55 L459.27,525.36 L461.66,527.06 L464.05,528.67 L466.45,530.18 L468.85,531.59 L471.25,532.91 L473.65,534.15 L476.06,535.30 L478.47,536.38 L480.88,537.38 L483.30,538.30 L485.72,539.16 L488.14,539.95 L490.56,540.68 L492.99,541.35 L495.41,541.97 L497.84,542.54 L500.28,543.06 L502.71,543.53 L505.15,543.96 L507.58,544.36 L510.02,544.72 L512.47,545.04 L514.91,545.34 L517.35,545.60 L519.80,545.85 L522.24,546.06 L524.69,546.26 L527.14,546.43 L529.59,546.59 L532.04,546.73 L534.49,546.86 L536.94,546.97 L539.40,547.07 L541.85,547.16 L544.30,547.24 L546.76,547.31 L549.21,547.37 L551.66,547.43 L554.12,547.47 L556.57,547.52 L559.03,547.55 L561.49,547.59 L563.94,547.61 L566.40,547.64 L568.85,547.66 L571.31,547.68 L573.77,547.70 L576.22,547.71 L578.68,547.72 L581.14,547.74 L583.59,547.74 L586.05,547.75 L588.51,547.76 L590.97,547.77 L593.42,547.77 L595.88,547.78 L598.34,547.78 L600.79,547.78 L603.25,547.78 L605.71,547.79 L608.17,547.79 L610.62,547.79 L613.08,547.79 L615.62,547.79 L618.16,547.79 L620.69,547.80 L623.23,547.80 L625.77,547.80 L628.30,547.80 L630.84,547.80 L633.38,547.80 L635.92,547.80 L638.45,547.80 L640.99,547.80 L643.53,547.80 L646.07,547.80 L648.60,547.80 L651.14,547.80 L653.68,547.80 L656.22,547.80 L658.75,547.80 L661.29,547.80 L663.83,547.80 L666.37,547.80 L668.90,547.80 L671.44,547.80 L673.98,547.80 L676.52,547.80 L679.05,547.80 L681.59,547.80 L684.13,547.80 L686.66,547.80 L689.20,547.80 L691.74,547.80 L694.28,547.80 L696.81,547.80 L699.35,547.80 L701.89,547.80 L704.43,547.80 L706.96,547.80 L709.50,547.80 L712.04,547.80 L714.58,547.80 L717.11,547.80 L719.65,547.80 L722.19,547.80 L724.73,547.80 L727.26,547.80 L729.80,547.80 L732.34,547.80 L734.88,547.80 L737.41,547.80 L739.95,547.80" stroke="#00ffff" stroke-width="1.8" fill="none" stroke-linejoin="round"/>
<path d="M125.60,546.03 L128.06,545.61 L130.51,545.12 L132.97,544.56 L135.43,543.91 L137.89,543.16 L140.34,542.32 L142.80,541.37 L145.26,540.31 L147.72,539.14 L150.17,537.85 L152.63,536.44 L155.09,534.91 L157.55,533.25 L160.00,531.47 L162.46,529.57 L164.92,527.54 L167.38,525.40 L169.83,523.14 L172.29,520.77 L174.75,518.29 L177.21,515.72 L179.66,513.05 L182.12,510.30 L184.58,507.46 L187.03,504.55 L189.49,501.58 L191.95,498.55 L194.41,495.48 L196.86,492.36 L199.32,489.21 L201.78,486.04 L204.24,482.85 L206.69,479.65 L209.15,476.44 L211.61,473.24 L214.07,470.05 L216.52,466.88 L218.98,463.73 L221.44,460.61 L223.90,457.52 L226.35,454.47 L228.81,451.47 L231.27,448.51 L233.73,445.60 L236.18,442.74 L238.64,439.94 L241.10,437.19 L243.56,434.51 L246.01,431.89 L248.47,429.34 L250.93,426.85 L253.38,424.42 L255.84,422.07 L258.30,419.78 L260.76,417.57 L263.21,415.42 L265.67,413.34 L268.13,411.33 L270.59,409.40 L273.04,407.53 L275.50,405.73 L277.96,404.00 L280.42,402.34 L282.87,400.75 L285.33,399.22 L287.79,397.77 L290.25,396.38 L292.70,395.06 L295.16,393.81 L297.62,392.62 L300.08,391.50 L302.53,390.45 L304.99,389.46 L307.45,388.54 L309.90,387.69 L312.36,386.90 L314.82,386.18 L317.28,385.53 L319.73,384.94 L322.19,384.43 L324.65,383.98 L327.11,383.60 L329.56,383.29 L332.02,383.05 L334.48,382.89 L336.94,382.80 L339.39,382.78 L341.85,382.84 L344.31,382.98 L346.77,383.19 L349.22,383.49 L351.68,383.87 L354.14,384.33 L356.60,384.88 L359.05,385.51 L361.51,386.23 L363.97,387.04 L366.43,387.94 L368.88,388.93 L371.34,390.01 L373.80,391.19 L376.25,392.46 L378.71,393.83 L381.17,395.30 L383.63,396.86 L386.08,398.52 L388.54,400.28 L391.00,402.13 L393.46,404.08 L395.91,406.12 L398.37,408.25 L400.83,410.47 L403.29,412.79 L405.74,415.18 L408.20,417.67 L410.66,420.23 L413.12,422.86 L415.57,425.57 L418.03,428.35 L420.49,431.19 L422.95,434.09 L425.40,437.04 L427.86,440.04 L430.32,443.08 L432.77,446.15 L435.23,449.26 L437.69,452.38 L440.15,455.52 L442.60,458.67 L445.06,461.83 L447.52,464.98 L449.98,468.12 L452.43,471.24 L454.89,474.34 L457.35,477.41 L459.81,480.44 L462.26,483.43 L464.72,486.38 L467.18,489.27 L469.64,492.11 L472.09,494.88 L474.55,497.59 L477.01,500.23 L479.47,502.80 L481.92,505.29 L484.38,507.70 L486.84,510.03 L489.30,512.28 L491.75,514.45 L494.21,516.53 L496.67,518.52 L499.12,520.43 L501.58,522.26 L504.04,523.99 L506.50,525.65 L508.95,527.22 L511.41,528.71 L513.87,530.12 L516.33,531.44 L518.78,532.70 L521.24,533.88 L523.70,534.98 L526.16,536.02 L528.61,536.99 L531.07,537.89 L533.53,538.74 L535.99,539.52 L538.44,540.25 L540.90,540.92 L543.36,541.55 L545.82,542.12 L548.27,542.66 L550.73,543.14 L553.19,543.59 L555.64,544.00 L558.10,544.38 L560.56,544.72 L563.02,545.04 L565.47,545.32 L567.93,545.58 L570.39,545.82 L572.85,546.03 L575.30,546.22 L577.76,546.40 L580.22,546.55 L582.68,546.70 L585.13,546.82 L587.59,546.93 L590.05,547.04 L592.51,547.13 L594.96,547.21 L597.42,547.28 L599.88,547.34 L602.34,547.40 L604.79,547.45 L607.25,547.49 L609.71,547.53 L612.17,547.57 L614.62,547.60 L617.08,547.62 L619.54,547.65 L621.99,547.67 L624.45,547.69 L626.91,547.70 L629.37,547.72 L631.82,547.73 L634.28,547.74 L636.74,547.75 L639.20,547.75 L641.65,547.76 L644.11,547.77 L646.57,547.77 L649.03,547.78 L651.48,547.78 L653.94,547.78 L656.40,547.79 L658.86,547.79 L661.31,547.79 L663.77,547.79 L666.23,547.79 L668.69,547.79 L671.14,547.79 L673.60,547.80 L676.06,547.80 L678.52,547.80 L680.97,547.80 L683.43,547.80 L685.89,547.80 L688.34,547.80 L690.80,547.80 L693.26,547.80 L695.72,547.80 L698.17,547.80 L700.63,547.80 L703.09,547.80 L705.55,547.80 L708.00,547.80 L710.46,547.80 L712.92,547.80 L715.38,547.80 L717.83,547.80 L720.29,547.80 L722.75,547.80 L725.21,547.80 L727.66,547.80 L730.12,547.80 L732.58,547.80 L735.04,547.80 L737.49,547.80 L739.95,547.80" stroke="#00ff00" stroke-width="1.8" fill="none" stroke-linejoin="round"/>
<path d="M125.60,546.45 L128.06,546.13 L130.51,545.75 L132.97,545.32 L135.43,544.81 L137.89,544.23 L140.34,543.58 L142.80,542.84 L145.26,542.02 L147.72,541.10 L150.17,540.10 L152.63,538.99 L155.09,537.79 L157.55,536.49 L160.00,535.09 L162.46,533.60 L164.92,532.00 L167.38,530.32 L169.83,528.54 L172.29,526.67 L174.75,524.71 L177.21,522.68 L179.66,520.57 L182.12,518.39 L184.58,516.14 L187.03,513.84 L189.49,511.48 L191.95,509.08 L194.41,506.63 L196.86,504.16 L199.32,501.65 L201.78,499.12 L204.24,496.58 L206.69,494.03 L209.15,491.48 L211.61,488.93 L214.07,486.38 L216.52,483.85 L218.98,481.33 L221.44,478.83 L223.90,476.36 L226.35,473.92 L228.81,471.51 L231.27,469.14 L233.73,466.80 L236.18,464.50 L238.64,462.25 L241.10,460.04 L243.56,457.88 L246.01,455.77 L248.47,453.70 L250.93,451.69 L253.38,449.72 L255.84,447.81 L258.30,445.95 L260.76,444.14 L263.21,442.39 L265.67,440.68 L268.13,439.03 L270.59,437.43 L273.04,435.88 L275.50,434.38 L277.96,432.93 L280.42,431.53 L282.87,430.18 L285.33,428.87 L287.79,427.62 L290.25,426.41 L292.70,425.24 L295.16,424.12 L297.62,423.05 L300.08,422.01 L302.53,421.02 L304.99,420.07 L307.45,419.16 L309.90,418.29 L312.36,417.45 L314.82,416.66 L317.28,415.90 L319.73,415.18 L322.19,414.49 L324.65,413.84 L327.11,413.22 L329.56,412.64 L332.02,412.09 L334.48,411.57 L336.94,411.09 L339.39,410.64 L341.85,410.22 L344.31,409.83 L346.77,409.48 L349.22,409.16 L351.68,408.87 L354.14,408.61 L356.60,408.38 L359.05,408.19 L361.51,408.03 L363.97,407.91 L366.43,407.82 L368.88,407.76 L371.34,407.75 L373.80,407.76 L376.25,407.82 L378.71,407.91 L381.17,408.05 L383.63,408.22 L386.08,408.44 L388.54,408.70 L391.00,409.01 L393.46,409.36 L395.91,409.76 L398.37,410.21 L400.83,410.71 L403.29,411.26 L405.74,411.87 L408.20,412.53 L410.66,413.25 L413.12,414.03 L415.57,414.86 L418.03,415.76 L420.49,416.73 L422.95,417.76 L425.40,418.85 L427.86,420.01 L430.32,421.24 L432.77,422.53 L435.23,423.90 L437.69,425.33 L440.15,426.84 L442.60,428.41 L445.06,430.06 L447.52,431.77 L449.98,433.55 L452.43,435.40 L454.89,437.32 L457.35,439.30 L459.81,441.34 L462.26,443.44 L464.72,445.59 L467.18,447.81 L469.64,450.07 L472.09,452.38 L474.55,454.74 L477.01,457.14 L479.47,459.57 L481.92,462.04 L484.38,464.53 L486.84,467.04 L489.30,469.58 L491.75,472.12 L494.21,474.67 L496.67,477.23 L499.12,479.78 L501.58,482.33 L504.04,484.86 L506.50,487.37 L508.95,489.86 L511.41,492.33 L513.87,494.76 L516.33,497.15 L518.78,499.51 L521.24,501.82 L523.70,504.08 L526.16,506.29 L528.61,508.44 L531.07,510.54 L533.53,512.57 L535.99,514.55 L538.44,516.46 L540.90,518.30 L543.36,520.08 L545.82,521.78 L548.27,523.42 L550.73,524.99 L553.19,526.50 L555.64,527.93 L558.10,529.29 L560.56,530.59 L563.02,531.82 L565.47,532.99 L567.93,534.09 L570.39,535.13 L572.85,536.11 L575.30,537.02 L577.76,537.89 L580.22,538.69 L582.68,539.45 L585.13,540.15 L587.59,540.81 L590.05,541.42 L592.51,541.98 L594.96,542.51 L597.42,542.99 L599.88,543.44 L602.34,543.85 L604.79,544.22 L607.25,544.57 L609.71,544.89 L612.17,545.18 L614.62,545.44 L617.08,545.69 L619.54,545.91 L621.99,546.10 L624.45,546.29 L626.91,546.45 L629.37,546.60 L631.82,546.73 L634.28,546.85 L636.74,546.96 L639.20,547.05 L641.65,547.14 L644.11,547.22 L646.57,547.29 L649.03,547.35 L651.48,547.40 L653.94,547.45 L656.40,547.50 L658.86,547.53 L661.31,547.57 L663.77,547.60 L666.23,547.62 L668.69,547.65 L671.14,547.67 L673.60,547.69 L676.06,547.70 L678.52,547.71 L680.97,547.73 L683.43,547.74 L685.89,547.75 L688.34,547.75 L690.80,547.76 L693.26,547.77 L695.72,547.77 L698.17,547.77 L700.63,547.78 L703.09,547.78 L705.55,547.78 L708.00,547.79 L710.46,547.79 L712.92,547.79 L715.38,547.79 L717.83,547.79 L720.29,547.79 L722.75,547.80 L725.21,547.80 L727.66,547.80 L730.12,547.80 L732.58,547.80 L735.04,547.80 L737.49,547.80 L739.95,547.80" stroke="#ff0000" stroke-width="1.8" fill="none" stroke-linejoin="round"/>
</g>
<g id="axes">
<rect x="125.6" y="49.45" width="614.35" height="498.35" fill="none" stroke="#000" stroke-width="1.75"/>
<path d="M125.60,547.8 v-10 M125.60,49.45 v10 M137.89,547.8 v-5.0 M137.89,49.45 v5.0 M150.17,547.8 v-5.0 M150.17,49.45 v5.0 M162.46,547.8 v-5.0 M162.46,49.45 v5.0 M174.75,547.8 v-5.0 M174.75,49.45 v5.0 M187.03,547.8 v-5.0 M187.03,49.45 v5.0 M199.32,547.8 v-5.0 M199.32,49.45 v5.0 M211.61,547.8 v-5.0 M211.61,49.45 v5.0 M223.90,547.8 v-5.0 M223.90,49.45 v5.0 M236.18,547.8 v-5.0 M236.18,49.45 v5.0 M248.47,547.8 v-10 M248.47,49.45 v10 M260.76,547.8 v-5.0 M260.76,49.45 v5.0 M273.04,547.8 v-5.0 M273.04,49.45 v5.0 M285.33,547.8 v-5.0 M285.33,49.45 v5.0 M297.62,547.8 v-5.0 M297.62,49.45 v5.0 M309.90,547.8 v-5.0 M309.90,49.45 v5.0 M322.19,547.8 v-5.0 M322.19,49.45 v5.0 M334.48,547.8 v-5.0 M334.48,49.45 v5.0 M346.77,547.8 v-5.0 M346.77,49.45 v5.0 M359.05,547.8 v-5.0 M359.05,49.45 v5.0 M371.34,547.8 v-10 M371.34,49.45 v10 M383.63,547.8 v-5.0 M383.63,49.45 v5.0 M395.91,547.8 v-5.0 M395.91,49.45 v5.0 M408.20,547.8 v-5.0 M408.20,49.45 v5.0 M420.49,547.8 v-5.0 M420.49,49.45 v5.0 M432.77,547.8 v-5.0 M432.77,49.45 v5.0 M445.06,547.8 v-5.0 M445.06,49.45 v5.0 M457.35,547.8 v-5.0 M457.35,49.45 v5.0 M469.64,547.8 v-5.0 M469.64,49.45 v5.0 M481.92,547.8 v-5.0 M481.92,49.45 v5.0 M494.21,547.8 v-10 M494.21,49.45 v10 M506.50,547.8 v-5.0 M506.50,49.45 v5.0 M518.78,547.8 v-5.0 M518.78,49.45 v5.0 M531.07,547.8 v-5.0 M531.07,49.45 v5.0 M543.36,547.8 v-5.0 M543.36,49.45 v5.0 M555.64,547.8 v-5.0 M555.64,49.45 v5.0 M567.93,547.8 v-5.0 M567.93,49.45 v5.0 M580.22,547.8 v-5.0 M580.22,49.45 v5.0 M592.51,547.8 v-5.0 M592.51,49.45 v5.0 M604.79,547.8 v-5.0 M604.79,49.45 v5.0 M617.08,547.8 v-10 M617.08,49.45 v10 M629.37,547.8 v-5.0 M629.37,49.45 v5.0 M641.65,547.8 v-5.0 M641.65,49.45 v5.0 M653.94,547.8 v-5.0 M653.94,49.45 v5.0 M666.23,547.8 v-5.0 M666.23,49.45 v5.0 M678.52,547.8 v-5.0 M678.52,49.45 v5.0 M690.80,547.8 v-5.0 M690.80,49.45 v5.0 M703.09,547.8 v-5.0 M703.09,49.45 v5.0 M715.38,547.8 v-5.0 M715.38,49.45 v5.0 M727.66,547.8 v-5.0 M727.66,49.45 v5.0 M739.95,547.8 v-10 M739.95,49.45 v10 M125.6,547.80 h12.3 M739.95,547.80 h-12.3 M125.6,516.65 h6.15 M739.95,516.65 h-6.15 M125.6,485.51 h6.15 M739.95,485.51 h-6.15 M125.6,454.36 h6.15 M739.95,454.36 h-6.15 M125.6,423.21 h6.15 M739.95,423.21 h-6.15 M125.6,392.07 h12.3 M739.95,392.07 h-12.3 M125.6,360.92 h6.15 M739.95,360.92 h-6.15 M125.6,329.77 h6.15 M739.95,329.77 h-6.15 M125.6,298.62 h6.15 M739.95,298.62 h-6.15 M125.6,267.48 h6.15 M739.95,267.48 h-6.15 M125.6,236.33 h12.3 M739.95,236.33 h-12.3 M125.6,205.18 h6.15 M739.95,205.18 h-6.15 M125.6,174.04 h6.15 M739.95,174.04 h-6.15 M125.6,142.89 h6.15 M739.95,142.89 h-6.15 M125.6,111.74 h6.15 M739.95,111.74 h-6.15 M125.6,80.60 h12.3 M739.95,80.60 h-12.3 M125.6,49.45 h6.15 M739.95,49.45 h-6.15" stroke="#000" stroke-width="1.6" fill="none"/>
</g>
<g id="labels" style="opacity:0.999">
<text transform="translate(126.00,586.1) scale(1.0,1.035)" font-size="30" text-anchor="middle">9</text>
<text transform="translate(248.87,586.1) scale(1.0,1.035)" font-size="30" text-anchor="middle">10</text>
<text transform="translate(371.74,586.1) scale(1.0,1.035)" font-size="30" text-anchor="middle">11</text>
<text transform="translate(494.61,586.1) scale(1.0,1.035)" font-size="30" text-anchor="middle">12</text>
<text transform="translate(617.48,586.1) scale(1.0,1.035)" font-size="30" text-anchor="middle">13</text>
<text transform="translate(740.35,586.1) scale(1.0,1.035)" font-size="30" text-anchor="middle">14</text>
<text transform="translate(118.0,548.60) scale(0.99,1.035)" font-size="30" text-anchor="end">0.0</text>
<text transform="translate(118.0,402.47) scale(0.99,1.035)" font-size="30" text-anchor="end">0.5</text>
<text transform="translate(118.0,246.73) scale(0.99,1.035)" font-size="30" text-anchor="end">1.0</text>
<text transform="translate(118.0,91.00) scale(0.99,1.035)" font-size="30" text-anchor="end">1.5</text>
<text x="357.2" y="617.7" font-size="30">log(<tspan font-style="italic">L</tspan><tspan font-size="18.6" dy="7">IR</tspan><tspan dy="-7"> [</tspan><tspan font-style="italic">L</tspan></text>
<circle cx="482.35" cy="618.2" r="6.6" fill="none" stroke="#000" stroke-width="1.4"/><circle cx="482.35" cy="618.2" r="2.1" fill="#000"/>
<text x="485.5" y="617.7" font-size="30">])</text>
<text transform="translate(57.3,463.1) rotate(-90)" font-size="29.9">number (dex<tspan font-size="18.6" dy="-13.3">-1</tspan><tspan dy="13.3">, normalized)</tspan></text>
<text x="199.4" y="274.15" font-size="23.3"><tspan font-style="italic">L</tspan><tspan font-size="14.2" dy="4.8">AGN</tspan><tspan dy="-4.8"> = 10</tspan><tspan font-size="14.4" dy="-10.1">44</tspan><tspan dy="10.1"> erg s</tspan><tspan font-size="14.4" dy="-10.1">-1</tspan></text>
<text x="518.6" y="267.95" font-size="23.3"><tspan font-style="italic">L</tspan><tspan font-size="14.2" dy="4.8">AGN</tspan><tspan dy="-4.8"> = 10</tspan><tspan font-size="14.4" dy="-10.1">46</tspan><tspan dy="10.1"> erg s</tspan><tspan font-size="14.4" dy="-10.1">-1</tspan></text>
<text x="539.6" y="89.70" font-size="19.8"><tspan font-style="italic">z</tspan> = 0.05</text>
<path d="M618.1,84.10 H708.6" stroke="#000000" stroke-width="1.7"/>
<text x="539.6" y="109.60" font-size="19.8"><tspan font-style="italic">z</tspan> = 0.35</text>
<path d="M618.1,104.00 H708.6" stroke="#0000ff" stroke-width="1.7"/>
<text x="539.6" y="129.50" font-size="19.8"><tspan font-style="italic">z</tspan> = 0.65</text>
<path d="M618.1,123.90 H708.6" stroke="#00ffff" stroke-width="1.7"/>
<text x="539.6" y="149.40" font-size="19.8"><tspan font-style="italic">z</tspan> = 1.20</text>
<path d="M618.1,143.80 H708.6" stroke="#00ff00" stroke-width="1.7"/>
<text x="539.6" y="169.30" font-size="19.8"><tspan font-style="italic">z</tspan> = 2.00</text>
<path d="M618.1,163.70 H708.6" stroke="#ff0000" stroke-width="1.7"/>
</g>
</svg>
</body></html>
